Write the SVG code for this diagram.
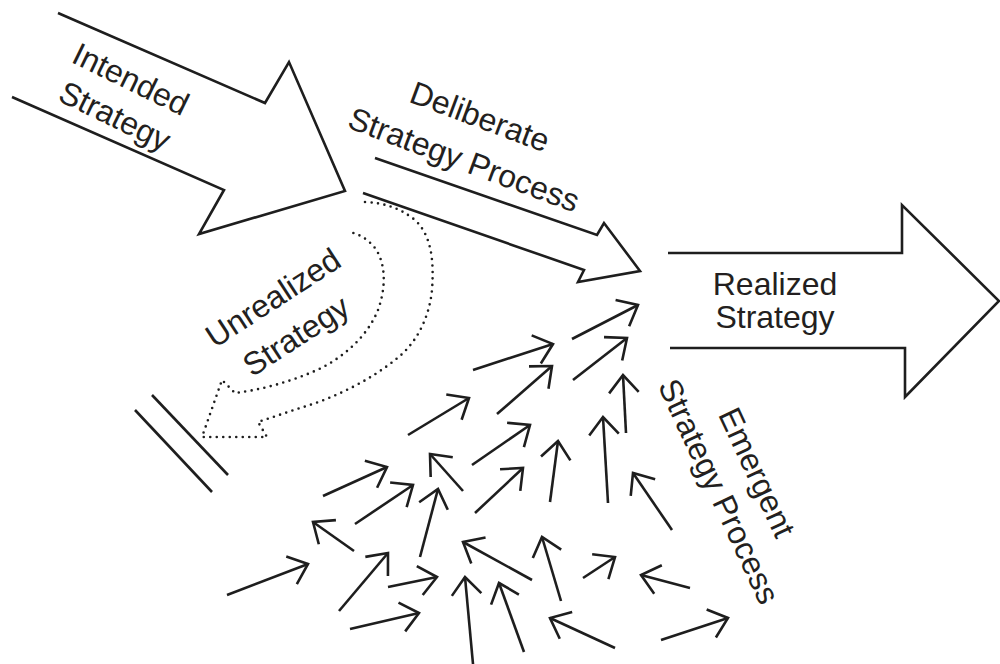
<svg xmlns="http://www.w3.org/2000/svg" width="1000" height="664" viewBox="0 0 1000 664">
<style>
.big{fill:none;stroke:#1e1e1e;stroke-width:2.6;stroke-linejoin:miter}
.dot{fill:none;stroke:#1e1e1e;stroke-width:2.6;stroke-linecap:round;stroke-dasharray:0 6.5}
.sm{stroke:#1e1e1e;stroke-width:2.6;fill:none;marker-end:url(#ah)}
.lbl{font-family:"Liberation Sans",Arial,sans-serif;font-size:32px;fill:#231f20;text-anchor:middle}
</style>
<defs>
<marker id="ah" markerUnits="userSpaceOnUse" orient="auto" viewBox="-30 -20 34 40" markerWidth="34" markerHeight="40" refX="0" refY="0">
<path d="M-17.6,-14.8 L0,0 L-17.6,14.8" fill="none" stroke="#1e1e1e" stroke-width="2.6"/>
</marker>
</defs>
<rect width="1000" height="664" fill="#ffffff"/>
<g id="intended">
<path class="big" d="M58,13 L265,103 L289,62 L345,191 L199,234 L224,190 L12,97"/>
<text class="lbl" transform="translate(126,89) rotate(26)">Intended</text>
<text class="lbl" transform="translate(110,126) rotate(26)">Strategy</text>
</g>
<g id="deliberate">
<path class="big" d="M375,158 L597,235 L604,223 L640,271 L578,282 L584,270 L363,193"/>
<text class="lbl" transform="translate(476,127) rotate(20.5)">Deliberate</text>
<text class="lbl" transform="translate(460,170) rotate(20.5)">Strategy Process</text>
</g>
<g id="realized">
<path class="big" d="M668,253 L902,253 L902,205 L999,301 L905,397 L905,348 L670,348"/>
<text class="lbl" x="775" y="295">Realized</text>
<text class="lbl" x="775" y="328">Strategy</text>
</g>
<g id="unrealized">
<path class="dot" d="M365,202 C385,203 400,208 415,220 C432,236 434,262 432,290 C429,320 415,345 395,360 C370,380 335,398 300,408 L258,422 L267,437 L202,437 L222,380 L235,393 C260,390 290,382 317,370 C345,357 368,335 378,310 C387,285 385,262 375,248 C367,238 358,234 350,232"/>
<text class="lbl" transform="translate(279,307) rotate(-33)">Unrealized</text>
<text class="lbl" transform="translate(302,345) rotate(-33)">Strategy</text>
</g>
<g id="block">
<line class="big" x1="152" y1="395" x2="228" y2="475"/>
<line class="big" x1="135" y1="410" x2="212" y2="492"/>
</g>
<g id="emergent">
<text class="lbl" transform="translate(747,477) rotate(65)">Emergent</text>
<text class="lbl" transform="translate(709,496) rotate(65)">Strategy Process</text>
</g>
<g id="connectors">
<line class="sm" x1="473" y1="370" x2="553" y2="344"/>
<line class="sm" x1="572" y1="339" x2="638" y2="305"/>
<line class="sm" x1="497" y1="414" x2="552" y2="366"/>
<line class="sm" x1="573" y1="380" x2="627" y2="338"/>
<line class="sm" x1="626" y1="433" x2="623" y2="375"/>
<line class="sm" x1="608" y1="503" x2="603" y2="417"/>
<line class="sm" x1="472" y1="465" x2="530" y2="425"/>
<line class="sm" x1="550" y1="502" x2="558" y2="441"/>
<line class="sm" x1="475" y1="513" x2="523" y2="468"/>
<line class="sm" x1="672" y1="530" x2="633" y2="473"/>
<line class="sm" x1="532" y1="580" x2="463" y2="542"/>
<line class="sm" x1="561" y1="601" x2="542" y2="537"/>
<line class="sm" x1="583" y1="578" x2="615" y2="557"/>
<line class="sm" x1="690" y1="588" x2="641" y2="575"/>
<line class="sm" x1="473" y1="664" x2="465" y2="577"/>
<line class="sm" x1="524" y1="652" x2="499" y2="583"/>
<line class="sm" x1="615" y1="648" x2="550" y2="618"/>
<line class="sm" x1="661" y1="640" x2="728" y2="618"/>
<line class="sm" x1="408" y1="435" x2="469" y2="398"/>
<line class="sm" x1="323" y1="496" x2="387" y2="467"/>
<line class="sm" x1="355" y1="524" x2="413" y2="485"/>
<line class="sm" x1="463" y1="491" x2="430" y2="454"/>
<line class="sm" x1="420" y1="557" x2="438" y2="489"/>
<line class="sm" x1="354" y1="551" x2="313" y2="522"/>
<line class="sm" x1="227" y1="595" x2="308" y2="564"/>
<line class="sm" x1="339" y1="611" x2="388" y2="553"/>
<line class="sm" x1="388" y1="587" x2="437" y2="577"/>
<line class="sm" x1="350" y1="629" x2="419" y2="613"/>
</g>
</svg>
